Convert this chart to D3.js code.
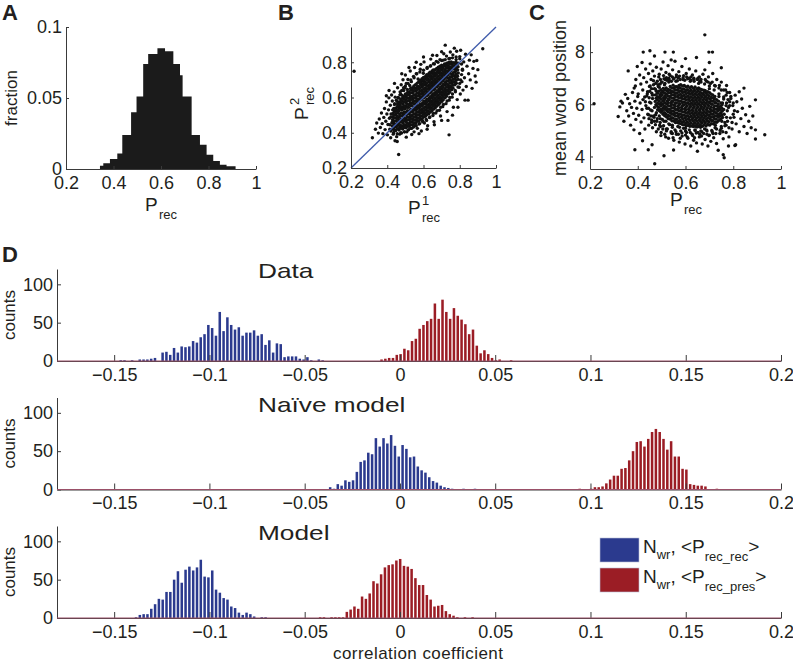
<!DOCTYPE html>
<html><head><meta charset="utf-8">
<script src="https://cdn.jsdelivr.net/npm/d3@7"></script>
<style>
body{margin:0;background:#fff}
svg{display:block}
text{font-family:"Liberation Sans",Arial,Helvetica,sans-serif;fill:#231f20}
</style>
</head><body>
<svg id="fig" width="793" height="664"></svg>
<script>
// ---------- Panel A: histogram of P_rec ----------
const aEdges = [0.343,0.357,0.385,0.416,0.437,0.474,0.497,0.525,0.546,0.585,0.617,0.652,0.680,0.691,0.729,0.764,0.792,0.820,0.848,0.876,0.914];
const aFraction = [0.0023,0.004,0.007,0.011,0.024,0.040,0.051,0.074,0.081,0.085,0.083,0.074,0.066,0.051,0.024,0.017,0.010,0.0056,0.003,0.002];
const aXTicks = [0.2,0.4,0.6,0.8,1];
const aXLabels = ["0.2","0.4","0.6","0.8","1"];
const aYTicks = [0,0.05,0.1];
const aYLabels = ["0","0.05","0.1"];

// ---------- Panel B: P1_rec vs P2_rec ----------
const scatterB = [
[.431,.421],[.428,.439],[.433,.455],[.429,.474],[.432,.491],[.430,.508],
[.447,.413],[.450,.433],[.446,.449],[.449,.469],[.451,.485],[.447,.505],[.449,.522],[.446,.540],
[.465,.416],[.468,.432],[.464,.452],[.467,.468],[.465,.488],[.469,.504],[.463,.524],[.466,.540],[.468,.558],[.465,.573],
[.485,.421],[.482,.437],[.486,.457],[.483,.473],[.485,.493],[.487,.509],[.482,.529],[.484,.545],[.486,.565],[.483,.581],[.485,.597],
[.503,.428],[.500,.444],[.504,.464],[.501,.480],[.503,.500],[.505,.516],[.499,.536],[.502,.552],[.504,.572],[.501,.588],[.503,.606],[.500,.620],
[.521,.436],[.518,.452],[.522,.472],[.519,.488],[.521,.508],[.523,.524],[.517,.544],[.520,.560],[.522,.580],[.519,.596],[.521,.616],[.518,.632],
[.539,.444],[.536,.462],[.540,.480],[.537,.498],[.539,.518],[.541,.534],[.535,.554],[.538,.570],[.540,.590],[.537,.606],[.539,.626],[.536,.642],[.538,.656],
[.557,.456],[.554,.472],[.558,.492],[.555,.508],[.557,.528],[.559,.544],[.553,.564],[.556,.580],[.558,.600],[.555,.616],[.557,.636],[.554,.652],[.556,.672],
[.575,.467],[.572,.483],[.576,.503],[.573,.519],[.575,.539],[.577,.555],[.571,.575],[.574,.591],[.576,.611],[.573,.627],[.575,.647],[.572,.663],[.574,.689],
[.593,.480],[.590,.496],[.594,.516],[.591,.532],[.593,.552],[.595,.568],[.589,.588],[.592,.604],[.594,.624],[.591,.640],[.593,.660],[.590,.676],[.591,.692],[.592,.706],
[.611,.494],[.608,.510],[.612,.530],[.609,.546],[.611,.566],[.613,.582],[.607,.602],[.610,.618],[.612,.638],[.609,.654],[.611,.674],[.608,.690],[.610,.706],[.612,.721],
[.629,.508],[.626,.524],[.630,.544],[.627,.560],[.629,.580],[.631,.596],[.625,.616],[.628,.632],[.630,.652],[.627,.668],[.629,.688],[.626,.704],[.628,.722],[.630,.736],
[.647,.525],[.644,.541],[.648,.561],[.645,.577],[.647,.597],[.649,.613],[.643,.633],[.646,.649],[.648,.669],[.645,.685],[.647,.705],[.644,.721],[.646,.739],[.648,.750],
[.665,.542],[.662,.558],[.666,.578],[.663,.594],[.665,.614],[.667,.630],[.661,.650],[.664,.666],[.666,.686],[.663,.702],[.665,.722],[.662,.738],[.664,.758],
[.683,.560],[.680,.576],[.684,.596],[.681,.612],[.683,.632],[.685,.648],[.679,.668],[.682,.684],[.684,.704],[.681,.720],[.683,.740],[.680,.756],[.682,.772],
[.701,.578],[.698,.594],[.702,.614],[.699,.630],[.701,.650],[.703,.666],[.697,.686],[.700,.702],[.702,.722],[.699,.738],[.701,.758],[.698,.774],[.700,.783],
[.719,.598],[.716,.614],[.720,.634],[.717,.650],[.719,.670],[.721,.686],[.715,.706],[.718,.722],[.720,.742],[.717,.758],[.719,.778],[.716,.790],
[.737,.621],[.734,.637],[.738,.657],[.735,.673],[.737,.693],[.739,.709],[.733,.729],[.736,.745],[.738,.765],[.735,.781],[.737,.797],
[.755,.644],[.752,.660],[.756,.680],[.753,.696],[.755,.716],[.757,.732],[.751,.752],[.754,.768],[.756,.788],[.753,.802],
[.773,.672],[.770,.688],[.774,.708],[.771,.724],[.773,.744],[.775,.760],[.769,.780],[.772,.796],
[.791,.703],[.788,.721],[.792,.739],[.789,.757],[.791,.775],[.793,.795],
[.439,.413],[.439,.430],[.440,.448],[.438,.464],[.439,.483],[.440,.500],[.438,.517],[.439,.531],
[.457,.422],[.456,.442],[.458,.458],[.457,.478],[.456,.494],[.458,.514],[.457,.531],[.456,.549],[.457,.563],
[.475,.425],[.474,.441],[.476,.461],[.475,.477],[.474,.497],[.476,.513],[.475,.533],[.474,.549],[.476,.567],[.475,.582],[.474,.592],
[.493,.430],[.492,.446],[.494,.466],[.493,.482],[.492,.502],[.494,.518],[.493,.538],[.492,.554],[.494,.574],[.493,.590],[.492,.606],
[.511,.437],[.510,.453],[.512,.473],[.511,.489],[.510,.509],[.512,.525],[.511,.545],[.510,.561],[.512,.581],[.511,.597],[.510,.615],[.512,.628],
[.529,.445],[.528,.461],[.530,.481],[.529,.497],[.528,.517],[.530,.533],[.529,.553],[.528,.569],[.530,.589],[.529,.605],[.528,.625],[.530,.641],[.529,.652],
[.547,.453],[.546,.471],[.548,.489],[.547,.507],[.546,.527],[.548,.543],[.547,.563],[.546,.579],[.548,.599],[.547,.615],[.546,.635],[.548,.651],[.547,.665],
[.565,.465],[.564,.481],[.566,.501],[.565,.517],[.564,.537],[.566,.553],[.565,.573],[.564,.589],[.566,.609],[.565,.625],[.564,.645],[.566,.661],[.565,.681],
[.583,.476],[.582,.492],[.584,.512],[.583,.528],[.582,.548],[.584,.564],[.583,.584],[.582,.600],[.584,.620],[.583,.636],[.582,.656],[.584,.672],[.583,.684],[.582,.698],
[.601,.489],[.600,.505],[.602,.525],[.601,.541],[.600,.561],[.602,.577],[.601,.597],[.600,.613],[.602,.633],[.601,.649],[.600,.669],[.602,.685],[.601,.700],[.600,.714],
[.619,.503],[.618,.519],[.620,.539],[.619,.555],[.618,.575],[.620,.591],[.619,.611],[.618,.627],[.620,.647],[.619,.663],[.618,.683],[.620,.699],[.619,.714],[.618,.729],
[.637,.517],[.636,.533],[.638,.553],[.637,.569],[.636,.589],[.638,.605],[.637,.625],[.636,.641],[.638,.661],[.637,.677],[.636,.697],[.638,.713],[.637,.730],[.636,.744],
[.655,.534],[.654,.550],[.656,.570],[.655,.586],[.654,.606],[.656,.622],[.655,.642],[.654,.658],[.656,.678],[.655,.694],[.654,.714],[.656,.730],[.655,.745],[.654,.756],
[.673,.551],[.672,.567],[.674,.587],[.673,.603],[.672,.623],[.674,.639],[.673,.659],[.672,.675],[.674,.695],[.673,.711],[.672,.731],[.674,.747],[.673,.765],
[.691,.569],[.690,.585],[.692,.605],[.691,.621],[.690,.641],[.692,.657],[.691,.677],[.690,.693],[.692,.713],[.691,.729],[.690,.749],[.692,.765],[.691,.778],
[.709,.587],[.708,.603],[.710,.623],[.709,.639],[.708,.659],[.710,.675],[.709,.695],[.708,.711],[.710,.731],[.709,.747],[.708,.767],[.710,.780],
[.727,.607],[.726,.623],[.728,.643],[.727,.659],[.726,.679],[.728,.695],[.727,.715],[.726,.731],[.728,.751],[.727,.767],[.726,.785],[.728,.795],
[.745,.630],[.744,.646],[.746,.666],[.745,.682],[.744,.702],[.746,.718],[.745,.738],[.744,.754],[.746,.774],[.745,.790],[.744,.800],
[.763,.653],[.762,.669],[.764,.689],[.763,.705],[.762,.725],[.764,.741],[.763,.761],[.762,.777],[.764,.797],
[.781,.681],[.780,.697],[.782,.717],[.781,.733],[.780,.753],[.782,.769],[.781,.789],[.780,.800],
[.415,.445],[.420,.490],[.430,.530],[.440,.560],[.450,.585],[.460,.600],[.470,.615],[.480,.640],[.490,.655],[.500,.665],
[.515,.680],[.530,.700],[.545,.720],[.560,.735],[.580,.745],[.600,.755],[.620,.770],[.640,.780],[.660,.790],[.680,.800],
[.700,.810],[.720,.815],[.740,.820],[.760,.825],[.780,.830],[.800,.820],[.810,.790],[.815,.760],[.810,.730],[.805,.700],
[.800,.680],[.790,.660],[.775,.640],[.760,.620],[.745,.600],[.730,.580],[.710,.560],[.695,.545],[.675,.525],[.655,.510],
[.635,.490],[.615,.475],[.595,.465],[.575,.450],[.555,.440],[.535,.425],[.515,.415],[.495,.405],[.475,.400],[.455,.395],
[.435,.400],[.420,.410],
[.318,.372],[.335,.420],[.342,.455],[.351,.398],[.356,.478],[.362,.430],[.368,.512],[.372,.452],[.376,.395],[.381,.487],
[.385,.538],[.388,.418],[.392,.465],[.395,.575],[.398,.506],[.401,.388],[.404,.447],[.407,.530],[.409,.598],[.412,.482],
[.414,.420],[.417,.556],[.419,.372],[.421,.506],[.424,.614],[.426,.458],[.428,.580],[.433,.392],[.436,.538],[.438,.632],
[.441,.565],[.443,.355],[.444,.602],[.452,.378],[.455,.578],[.457,.655],[.461,.597],[.463,.277],[.468,.392],[.471,.632],
[.474,.620],[.477,.672],[.479,.398],[.483,.612],[.487,.701],[.491,.640],[.495,.405],[.498,.655],[.500,.728],[.505,.680],
[.508,.405],[.511,.645],[.514,.702],[.518,.418],[.524,.668],[.527,.750],[.530,.425],[.533,.690],[.545,.432],[.548,.712],
[.551,.770],[.560,.440],[.563,.735],[.566,.425],[.570,.705],[.579,.452],[.582,.760],[.585,.788],[.588,.410],[.596,.462],
[.599,.738],[.603,.802],[.605,.455],[.617,.470],[.620,.765],[.623,.440],[.633,.486],[.637,.778],[.640,.818],[.652,.498],
[.655,.792],[.658,.462],[.668,.512],[.671,.805],[.674,.838],[.688,.528],[.691,.815],[.694,.495],[.706,.548],[.709,.812],
[.712,.848],[.720,.897],[.724,.565],[.727,.835],[.730,.520],[.742,.585],[.745,.822],[.748,.858],[.741,.388],[.758,.602],
[.762,.842],[.765,.545],[.776,.632],[.780,.815],[.783,.862],[.786,.588],[.797,.658],[.800,.832],[.803,.620],[.805,.868],
[.812,.690],[.815,.755],[.818,.642],[.822,.802],[.826,.712],[.829,.585],[.832,.845],[.836,.662],[.840,.778],[.846,.585],
[.849,.735],[.853,.812],[.858,.700],[.863,.842],[.868,.652],[.873,.765],[.878,.805],[.885,.722],[.890,.687],[.894,.810],
[.900,.758],[.927,.877],[.217,.749],[.455,.350],[.505,.375],[.535,.390],[.548,.405],[.575,.395],[.620,.420],[.660,.445],
[.700,.470],[.735,.470],[.760,.500],[.790,.545],[.770,.880],[.700,.860],[.650,.840],[.600,.830],[.560,.800],[.520,.770],
[.480,.735],[.440,.680],[.410,.640],[.395,.610]
];
const identityLine = [[0.2,0.2],[1,1]];
const bXTicks = [0.2,0.4,0.6,0.8,1];
const bXLabels = ["0.2","0.4","0.6","0.8","1"];
const bYTicks = [0.2,0.4,0.6,0.8];
const bYLabels = ["0.2","0.4","0.6","0.8"];

// ---------- Panel C: P_rec vs mean word position ----------
const scatterC = [
[.476,5.98],[.473,6.11],[.477,6.23],[.474,6.36],
[.491,5.75],[.488,5.88],[.492,6.00],[.489,6.13],[.491,6.25],[.493,6.37],[.488,6.50],
[.506,5.62],[.503,5.75],[.507,5.87],[.504,6.00],[.506,6.12],[.508,6.24],[.502,6.37],[.505,6.49],[.507,6.61],
[.521,5.51],[.518,5.63],[.522,5.76],[.519,5.88],[.521,6.01],[.523,6.13],[.517,6.26],[.520,6.38],[.522,6.51],[.519,6.63],
[.536,5.43],[.533,5.55],[.537,5.68],[.534,5.80],[.536,5.93],[.538,6.05],[.532,6.18],[.535,6.30],[.537,6.43],[.534,6.55],[.536,6.68],
[.551,5.36],[.548,5.48],[.552,5.61],[.549,5.73],[.551,5.86],[.553,5.98],[.547,6.11],[.550,6.23],[.552,6.36],[.549,6.48],[.551,6.61],[.548,6.73],
[.566,5.30],[.563,5.42],[.567,5.55],[.564,5.67],[.566,5.80],[.568,5.92],[.562,6.05],[.565,6.17],[.567,6.30],[.564,6.42],[.566,6.55],[.563,6.67],
[.581,5.26],[.578,5.38],[.582,5.51],[.579,5.63],[.581,5.76],[.583,5.88],[.577,6.01],[.580,6.13],[.582,6.26],[.579,6.38],[.581,6.51],[.578,6.63],[.580,6.75],
[.596,5.22],[.593,5.34],[.597,5.47],[.594,5.59],[.596,5.72],[.598,5.84],[.592,5.97],[.595,6.09],[.597,6.22],[.594,6.34],[.596,6.47],[.593,6.59],[.595,6.72],
[.611,5.19],[.608,5.31],[.612,5.44],[.609,5.56],[.611,5.69],[.613,5.81],[.607,5.94],[.610,6.06],[.612,6.19],[.609,6.31],[.611,6.44],[.608,6.56],[.610,6.69],
[.626,5.17],[.623,5.29],[.627,5.42],[.624,5.54],[.626,5.67],[.628,5.79],[.622,5.92],[.625,6.04],[.627,6.17],[.624,6.29],[.626,6.42],[.623,6.54],[.625,6.67],
[.641,5.16],[.638,5.28],[.642,5.41],[.639,5.53],[.641,5.66],[.643,5.78],[.637,5.91],[.640,6.03],[.642,6.16],[.639,6.28],[.641,6.41],[.638,6.53],[.640,6.66],
[.656,5.15],[.653,5.27],[.657,5.40],[.654,5.52],[.656,5.65],[.658,5.77],[.652,5.90],[.655,6.02],[.657,6.15],[.654,6.27],[.656,6.40],[.653,6.52],[.655,6.63],
[.671,5.16],[.668,5.28],[.672,5.41],[.669,5.53],[.671,5.66],[.673,5.78],[.667,5.91],[.670,6.03],[.672,6.16],[.669,6.28],[.671,6.41],[.668,6.56],
[.686,5.17],[.683,5.29],[.687,5.42],[.684,5.54],[.686,5.67],[.688,5.79],[.682,5.92],[.685,6.04],[.687,6.17],[.684,6.29],[.686,6.42],[.683,6.52],
[.701,5.20],[.698,5.32],[.702,5.45],[.699,5.57],[.701,5.70],[.703,5.82],[.697,5.95],[.700,6.07],[.702,6.20],[.699,6.32],[.701,6.44],
[.716,5.25],[.713,5.37],[.717,5.50],[.714,5.62],[.716,5.75],[.718,5.87],[.712,6.00],[.715,6.12],[.717,6.25],[.714,6.36],
[.731,5.31],[.728,5.43],[.732,5.56],[.729,5.68],[.731,5.81],[.733,5.93],[.727,6.06],[.730,6.18],
[.746,5.42],[.743,5.55],[.747,5.67],[.744,5.80],[.746,5.92],[.748,6.05],
[.483,5.79],[.482,5.92],[.483,6.04],[.482,6.17],[.483,6.29],[.482,6.42],
[.498,5.69],[.497,5.81],[.498,5.94],[.497,6.06],[.498,6.19],[.497,6.31],[.498,6.44],[.497,6.56],
[.513,5.56],[.512,5.68],[.513,5.81],[.512,5.93],[.513,6.06],[.512,6.18],[.513,6.31],[.512,6.43],[.513,6.56],
[.528,5.45],[.527,5.57],[.528,5.70],[.527,5.82],[.528,5.95],[.527,6.07],[.528,6.20],[.527,6.32],[.528,6.45],[.527,6.57],
[.543,5.37],[.542,5.49],[.543,5.62],[.542,5.74],[.543,5.87],[.542,5.99],[.543,6.12],[.542,6.24],[.543,6.37],[.542,6.49],[.543,6.62],
[.558,5.30],[.557,5.42],[.558,5.55],[.557,5.67],[.558,5.80],[.557,5.92],[.558,6.05],[.557,6.17],[.558,6.30],[.557,6.42],[.558,6.55],[.557,6.67],
[.573,5.27],[.572,5.36],[.573,5.49],[.572,5.61],[.573,5.74],[.572,5.86],[.573,5.99],[.572,6.11],[.573,6.24],[.572,6.36],[.573,6.49],[.572,6.61],[.573,6.72],
[.588,5.22],[.587,5.32],[.588,5.45],[.587,5.57],[.588,5.70],[.587,5.82],[.588,5.95],[.587,6.07],[.588,6.20],[.587,6.32],[.588,6.45],[.587,6.57],[.588,6.70],
[.603,5.18],[.602,5.28],[.603,5.41],[.602,5.53],[.603,5.66],[.602,5.78],[.603,5.91],[.602,6.03],[.603,6.16],[.602,6.28],[.603,6.41],[.602,6.53],[.603,6.66],
[.618,5.16],[.617,5.25],[.618,5.38],[.617,5.50],[.618,5.63],[.617,5.75],[.618,5.88],[.617,6.00],[.618,6.13],[.617,6.25],[.618,6.38],[.617,6.50],[.618,6.63],
[.633,5.15],[.632,5.23],[.633,5.36],[.632,5.48],[.633,5.61],[.632,5.73],[.633,5.86],[.632,5.98],[.633,6.11],[.632,6.23],[.633,6.36],[.632,6.48],[.633,6.61],
[.648,5.13],[.647,5.22],[.648,5.35],[.647,5.47],[.648,5.60],[.647,5.72],[.648,5.85],[.647,5.97],[.648,6.10],[.647,6.22],[.648,6.35],[.647,6.47],[.648,6.60],
[.663,5.12],[.662,5.21],[.663,5.34],[.662,5.46],[.663,5.59],[.662,5.71],[.663,5.84],[.662,5.96],[.663,6.09],[.662,6.21],[.663,6.34],[.662,6.46],[.663,6.58],
[.678,5.22],[.677,5.35],[.678,5.47],[.677,5.60],[.678,5.72],[.677,5.85],[.678,5.97],[.677,6.10],[.678,6.22],[.677,6.35],[.678,6.47],[.677,6.54],
[.693,5.23],[.692,5.36],[.693,5.48],[.692,5.61],[.693,5.73],[.692,5.86],[.693,5.98],[.692,6.11],[.693,6.23],[.692,6.36],[.693,6.48],
[.708,5.26],[.707,5.39],[.708,5.51],[.707,5.64],[.708,5.76],[.707,5.89],[.708,6.01],[.707,6.14],[.708,6.26],[.707,6.39],
[.723,5.31],[.722,5.44],[.723,5.56],[.722,5.69],[.723,5.81],[.722,5.94],[.723,6.06],[.722,6.19],[.723,6.30],
[.738,5.37],[.737,5.50],[.738,5.62],[.737,5.75],[.738,5.87],[.737,6.00],[.738,6.12],
[.753,5.48],[.752,5.60],[.753,5.73],[.752,5.85],[.753,5.98],
[.432,6.10],[.438,5.85],[.440,6.40],[.447,5.45],[.452,6.70],[.462,5.10],[.466,6.90],[.478,4.95],[.488,7.05],[.497,4.80],
[.508,7.10],[.517,4.75],[.532,7.15],[.548,4.72],[.562,7.12],[.578,4.70],[.592,7.10],[.607,4.75],[.623,7.05],[.638,4.72],
[.652,7.00],[.667,4.78],[.683,6.95],[.698,4.80],[.712,6.85],[.727,4.88],[.742,6.72],[.756,4.95],[.768,6.55],[.782,5.10],
[.790,6.30],[.795,5.30],[.800,6.05],[.805,5.75],[.803,5.50],[.785,5.95],[.778,6.18],[.770,5.20],[.745,5.00],[.715,4.88],
[.690,4.85],[.660,4.85],[.630,4.80],[.600,4.82],[.570,4.85],[.545,4.88],[.520,5.05],[.495,5.15],[.470,5.35],[.455,5.55],
[.445,5.85],[.448,6.25],[.458,6.60],[.475,6.80],[.495,6.95],[.520,7.02],[.545,7.05],[.575,7.08],[.605,7.05],[.635,7.00],
[.665,6.95],[.695,6.85],[.725,6.70],[.750,6.55],[.770,6.35],[.785,6.10],
[.455,6.05],[.460,5.75],[.462,6.35],[.468,5.50],[.470,6.60],[.480,5.35],[.485,6.75],[.492,5.20],[.500,6.85],[.505,5.05],
[.515,6.95],[.520,4.98],[.530,7.00],[.540,4.90],[.550,6.98],[.560,4.95],[.570,7.02],[.585,4.90],[.590,6.95],[.600,4.98],
[.615,7.00],[.620,4.92],[.635,6.95],[.645,4.90],[.660,6.88],[.668,4.95],[.680,6.78],[.690,4.98],[.700,6.70],[.710,5.00],
[.720,6.55],[.730,5.05],[.740,6.40],[.750,5.15],[.760,6.20],[.765,5.30],[.770,5.95],[.772,5.50],[.775,5.75],[.445,5.60],
[.450,6.50],[.458,5.30],[.475,5.60],[.478,6.50],[.490,6.65],[.495,5.45],[.510,5.35],[.512,6.75],[.530,5.25],[.530,6.85],
[.545,5.20],[.560,6.88],[.575,5.12],[.600,5.08],[.620,6.88],[.640,5.02],[.655,6.80],[.680,5.05],[.700,6.60],[.725,5.20],
[.740,6.30],[.755,5.50],[.755,6.05],[.760,5.80],
[.385,6.62],[.392,6.95],[.398,7.45],[.402,6.40],[.408,7.12],[.413,6.78],[.418,7.60],[.421,6.55],[.425,7.02],[.429,6.28],
[.433,7.35],[.437,6.85],[.441,6.48],[.445,7.18],[.449,6.68],[.452,7.55],[.456,6.95],[.459,6.42],[.463,7.28],[.466,6.75],
[.470,7.08],[.474,6.58],[.478,7.42],[.482,6.88],[.486,6.68],[.490,7.15],[.494,6.78],[.498,7.35],[.502,6.85],[.506,7.62],
[.510,6.98],[.514,6.80],[.518,7.22],[.522,6.92],[.527,7.48],[.531,6.95],[.536,7.10],[.541,6.88],[.546,7.32],[.551,6.98],
[.556,7.65],[.561,7.05],[.566,6.90],[.572,7.25],[.578,6.95],[.585,7.45],[.590,7.02],[.597,6.92],[.603,7.18],[.609,6.98],
[.616,7.35],[.622,6.92],[.629,7.12],[.636,6.88],[.643,7.28],[.650,6.95],[.646,7.79],[.681,7.32],[.658,7.05],[.665,6.85],
[.673,7.15],[.688,6.88],[.696,7.05],[.705,6.80],[.714,7.18],[.722,6.72],[.731,6.95],[.740,6.62],[.750,6.85],[.760,6.55],
[.772,6.72],[.785,6.45],
[.318,5.53],[.325,5.90],[.330,6.12],[.336,6.05],[.342,5.35],[.348,6.38],[.354,5.75],[.358,6.22],[.362,5.55],[.366,6.02],
[.370,5.20],[.374,5.88],[.378,6.45],[.382,5.65],[.384,5.02],[.388,6.12],[.392,5.42],[.396,5.85],[.400,6.30],[.404,5.58],
[.408,4.88],[.410,6.05],[.414,5.32],[.418,5.80],[.422,6.18],[.426,5.48],[.430,5.05],[.434,5.95],[.438,6.32],[.442,5.62],
[.446,5.20],[.450,6.08],[.454,5.78],[.458,5.40],[.462,6.22],[.466,5.55],[.470,5.88],[.474,5.22],[.478,5.68],[.482,5.45],
[.486,5.05],[.490,5.55],[.494,5.30],[.498,4.92],[.503,5.42],[.508,5.18],[.513,4.85],[.518,5.35],[.524,5.05],[.529,4.70],
[.534,5.22],[.540,4.95],[.545,5.12],[.551,4.62],[.556,5.02],[.562,4.85],[.568,5.15],[.574,4.55],[.580,4.98],[.586,4.78],
[.592,5.08],[.598,4.48],[.604,4.92],[.610,4.70],[.616,5.02],[.622,4.40],[.628,4.85],[.634,4.62],[.640,5.00],[.646,4.52],
[.652,4.92],[.658,4.75],[.664,4.98],[.670,4.48],[.676,4.88],[.682,4.65],[.688,5.02],[.694,4.40],[.700,4.82],[.706,4.58],
[.712,4.95],[.718,4.72],[.724,5.10],[.730,4.50],[.737,4.24],[.744,4.88],[.750,5.08],[.758,4.07],[.762,3.95],[.758,4.68],
[.765,5.18],[.770,4.92],[.776,5.35],[.782,4.75],[.788,5.48],[.795,5.05],[.800,5.62],[.807,4.42],[.812,5.25],[.818,5.72],
[.825,4.95],[.832,5.45],[.838,5.85],[.845,5.15],[.852,5.60],[.858,4.88],[.865,5.35],[.869,5.92],[.875,5.10],[.882,5.55],
[.893,6.17],[.893,5.02],[.893,4.67],[.932,4.83],[.772,6.05],[.780,5.88],[.790,6.22],[.798,5.95],[.808,6.35],[.815,6.10],
[.825,6.48],[.835,6.20],[.845,6.62],[.760,6.28],[.752,5.35],[.762,5.62],[.775,6.45],
[.217,6.02],[.388,4.26],[.444,4.26],[.471,3.72],[.510,4.03],[.698,8.00],[.713,8.00],[.681,8.66],[.514,8.00],[.549,8.00],
[.451,8.05],[.423,8.00],[.360,7.28],[.700,7.60],[.390,6.70],[.540,7.70],[.470,7.85],[.600,7.75],[.750,7.40],[.420,4.60],
[.550,4.25],[.650,4.20],[.780,4.40],[.810,4.45],[.460,4.45]
];
const cXTicks = [0.2,0.4,0.6,0.8,1];
const cXLabels = ["0.2","0.4","0.6","0.8","1"];
const cYTicks = [4,6,8];
const cYLabels = ["4","6","8"];

// ---------- Panel D: correlation-coefficient histograms (bin width 0.002) ----------
const binWidth = 0.002;
const dataBlueStart = -0.14657;
const dataBlue = [1,1,0,1,0,2,2,2,3,4,0,11,12,8,17,11,19,18,19,26,24,31,35,47,43,33,64,39,57,47,41,44,33,37,37,40,33,35,21,27,11,23,22,5,6,6,6,3,2,5,1,0,2,1];
const dataRedStart = -0.00966;
const dataRed = [2,3,4,4,8,9,16,14,26,29,42,47,52,55,75,55,80,64,55,69,59,54,48,35,41,20,10,14,9,4,1,2,0,0,1];
const naiveBlueStart = -0.03662;
const naiveBlue = [3,1,7,5,12,10,12,23,36,38,48,46,67,56,67,60,71,57,43,58,53,42,43,30,25,22,16,11,9,5,3,2,1,0,0,1,0,0,1];
const naiveRedStart = 0.09433;
const naiveRed = [1,0,0,1,3,3,4,8,13,18,18,27,28,38,50,62,63,56,66,75,79,75,66,52,63,43,43,27,26,7,6,5,5,4,0,0,1];
const modelBlueStart = -0.13852;
const modelBlue = [1,4,5,5,12,18,25,24,34,34,50,61,46,63,67,62,66,76,54,53,62,37,33,26,24,15,13,7,4,7,5,2,0,1,1];
const modelRedStart = -0.04188;
const modelRed = [1,1,0,1,1,1,1,8,11,15,12,28,25,32,48,45,57,66,69,70,75,77,68,67,64,52,43,43,30,24,15,16,17,9,5,3,1,0,1,0,1];
const dTitles = ["Data","Naïve model","Model"];
const dXTicks = [-0.15,-0.1,-0.05,0,0.05,0.1,0.15,0.2];
const dXLabels = ["\u22120.15","\u22120.1","\u22120.05","0","0.05","0.1","0.15","0.2"];
const dYTicks = [0,50,100];
const dYLabels = ["0","50","100"];

// ---------- drawing ----------
const svg = d3.select("#fig");
const AX = "#3a3a3a", BLUE = "#2b3a8e", RED = "#9b1d25", BASE = "#9a5068";
const DOT_R = 1.7;

function axes(x, y, xt, xl, yt, yl, o) {
  const gx = svg.append("g").attr("transform", `translate(0,${y.range()[0]})`)
    .call(d3.axisBottom(x).tickValues(xt).tickFormat((d,i)=>xl[i])
      .tickSizeInner(-o.xtl).tickSizeOuter(0).tickPadding(o.xpad));
  const gy = svg.append("g").attr("transform", `translate(${x.range()[0]},0)`)
    .call(d3.axisLeft(y).tickValues(yt).tickFormat((d,i)=>yl[i])
      .tickSizeInner(-o.ytl).tickSizeOuter(0).tickPadding(o.ypad));
  [gx, gy].forEach(g => {
    g.attr("font-family", null).attr("font-size", null);
    g.selectAll("path.domain").attr("stroke", AX).attr("stroke-width", 1);
    g.selectAll(".tick line").attr("stroke", AX).attr("stroke-width", 1);
    g.selectAll(".tick text").style("font-size", o.fs + "px").attr("fill", "#231f20");
  });
}
function panelLetter(t, x, y) {
  svg.append("text").attr("x", x).attr("y", y).style("font-size", "22px").style("font-weight", "bold").text(t);
}
function subLabel(cx, cy, sup) {
  const g = svg.append("g").attr("transform", `translate(${cx},${cy})`);
  g.append("text").attr("x", -16).attr("y", 0).style("font-size", "19px").text("P");
  g.append("text").attr("x", -2).attr("y", 8).style("font-size", "13px").text("rec");
  if (sup) g.append("text").attr("x", -2).attr("y", -9).style("font-size", "13px").text(sup);
}
function rotLabel(t, x, y, fs) {
  svg.append("text").attr("transform", `translate(${x},${y}) rotate(-90)`)
    .attr("text-anchor", "middle").style("font-size", fs + "px").text(t);
}

// Panel A
const xA = d3.scaleLinear([0.2, 1], [66, 256]);
const yA = d3.scaleLinear([0, 0.1], [169, 27]);
const aSteps = aFraction.map((f, i) => [aEdges[i], f]).concat([[aEdges[aEdges.length - 1], aFraction[aFraction.length - 1]]]);
svg.append("path").datum(aSteps)
  .attr("d", d3.area().x(d => xA(d[0])).y0(yA(0)).y1(d => yA(d[1])).curve(d3.curveStepAfter))
  .attr("fill", "#1b1b1b");
axes(xA, yA, aXTicks, aXLabels, aYTicks, aYLabels, {xtl: 3, ytl: 3, xpad: 7, ypad: 4, fs: 18});
rotLabel("fraction", 17, 98, 17);
subLabel(161, 211);
panelLetter("A", 2, 20);

// Panel B
const xB = d3.scaleLinear([0.2, 1], [351, 496]);
const yB = d3.scaleLinear([0.2, 1], [168, 27]);
svg.append("g").selectAll("circle").data(scatterB).join("circle")
  .attr("cx", d => xB(d[0])).attr("cy", d => yB(d[1])).attr("r", DOT_R).attr("fill", "#111");
svg.append("path").datum(identityLine)
  .attr("d", d3.line().x(d => xB(d[0])).y(d => yB(d[1])))
  .attr("stroke", "#3f5bab").attr("stroke-width", 1.3).attr("fill", "none");
axes(xB, yB, bXTicks, bXLabels, bYTicks, bYLabels, {xtl: 3, ytl: 3, xpad: 7, ypad: 4, fs: 18});
subLabel(424, 214, "1");
{
  const g = svg.append("g").attr("transform", "translate(308,104) rotate(-90)");
  g.append("text").attr("x", -16).attr("y", 0).style("font-size", "19px").text("P");
  g.append("text").attr("x", -1).attr("y", 6).style("font-size", "13px").text("rec");
  g.append("text").attr("x", -1).attr("y", -9).style("font-size", "13px").text("2");
}
panelLetter("B", 278, 20);

// Panel C
const xC = d3.scaleLinear([0.2, 1], [590, 781]);
const yC = d3.scaleLinear([3.52, 9], [169, 26]);
svg.append("g").selectAll("circle").data(scatterC).join("circle")
  .attr("cx", d => xC(d[0])).attr("cy", d => yC(d[1])).attr("r", DOT_R).attr("fill", "#111");
axes(xC, yC, cXTicks, cXLabels, cYTicks, cYLabels, {xtl: 3, ytl: 3, xpad: 7, ypad: 5, fs: 18});
rotLabel("mean word position", 566, 98, 18);
subLabel(686, 206);
panelLetter("C", 529, 20);

// Panel D
const xD = d3.scaleLinear([-0.18, 0.2], [57, 781]);
const dBases = [361, 489.5, 618];
const dSeries = [
  [[dataBlueStart, dataBlue], [dataRedStart, dataRed]],
  [[naiveBlueStart, naiveBlue], [naiveRedStart, naiveRed]],
  [[modelBlueStart, modelBlue], [modelRedStart, modelRed]]
];
const dTitleY = [278, 412, 540];
const bw = (xD(binWidth) - xD(0)) * 0.66;
dBases.forEach((base, k) => {
  const y = d3.scaleLinear([0, 120], [base, base - 92]);
  dSeries[k].forEach(([start, counts], s) => {
    const bins = counts.map((c, i) => ({c, v: start + i * binWidth})).filter(d => d.c > 0);
    svg.append("g").selectAll("rect").data(bins).join("rect")
      .attr("x", d => xD(d.v) - bw / 2).attr("width", bw)
      .attr("y", d => y(d.c)).attr("height", d => y(0) - y(d.c))
      .attr("fill", s === 0 ? BLUE : RED);
  });
  axes(xD, y, dXTicks, dXLabels, dYTicks, dYLabels, {xtl: 6, ytl: 4, xpad: 7, ypad: 4, fs: 18});
  svg.append("line").attr("x1", xD(-0.18)).attr("x2", xD(0.2)).attr("y1", y(0)).attr("y2", y(0))
    .attr("stroke", BASE).attr("stroke-width", 1.2);
  rotLabel("counts", 15, base - 46, 17);
  svg.append("text").attr("transform", `translate(258,${dTitleY[k]}) scale(1.25,1)`)
    .style("font-size", "21px").text(dTitles[k]);
});
panelLetter("D", 2, 262);
svg.append("text").attr("x", 418).attr("y", 659).attr("text-anchor", "middle")
  .style("font-size", "17px").attr("textLength", 170).attr("lengthAdjust", "spacing").text("correlation coefficient");

// Legend
const legendItems = [
  {color: BLUE, sub: "rec_rec"},
  {color: RED, sub: "rec_pres"}
];
legendItems.forEach((it, i) => {
  const y0 = 538 + i * 30;
  svg.append("rect").attr("x", 600).attr("y", y0).attr("width", 39).attr("height", 24)
    .attr("fill", it.color).attr("stroke", "#b8bfd8").attr("stroke-width", 0.6);
  const t = svg.append("text").attr("x", 643).attr("y", y0 + 15).style("font-size", "19px");
  t.append("tspan").text("N");
  t.append("tspan").attr("dy", 6).style("font-size", "13px").text("wr");
  t.append("tspan").attr("dy", -6).text(", <P");
  t.append("tspan").attr("dy", 8).style("font-size", "13px").text(it.sub);
  t.append("tspan").attr("dy", -8).text(">");
});
</script>
</body></html>
